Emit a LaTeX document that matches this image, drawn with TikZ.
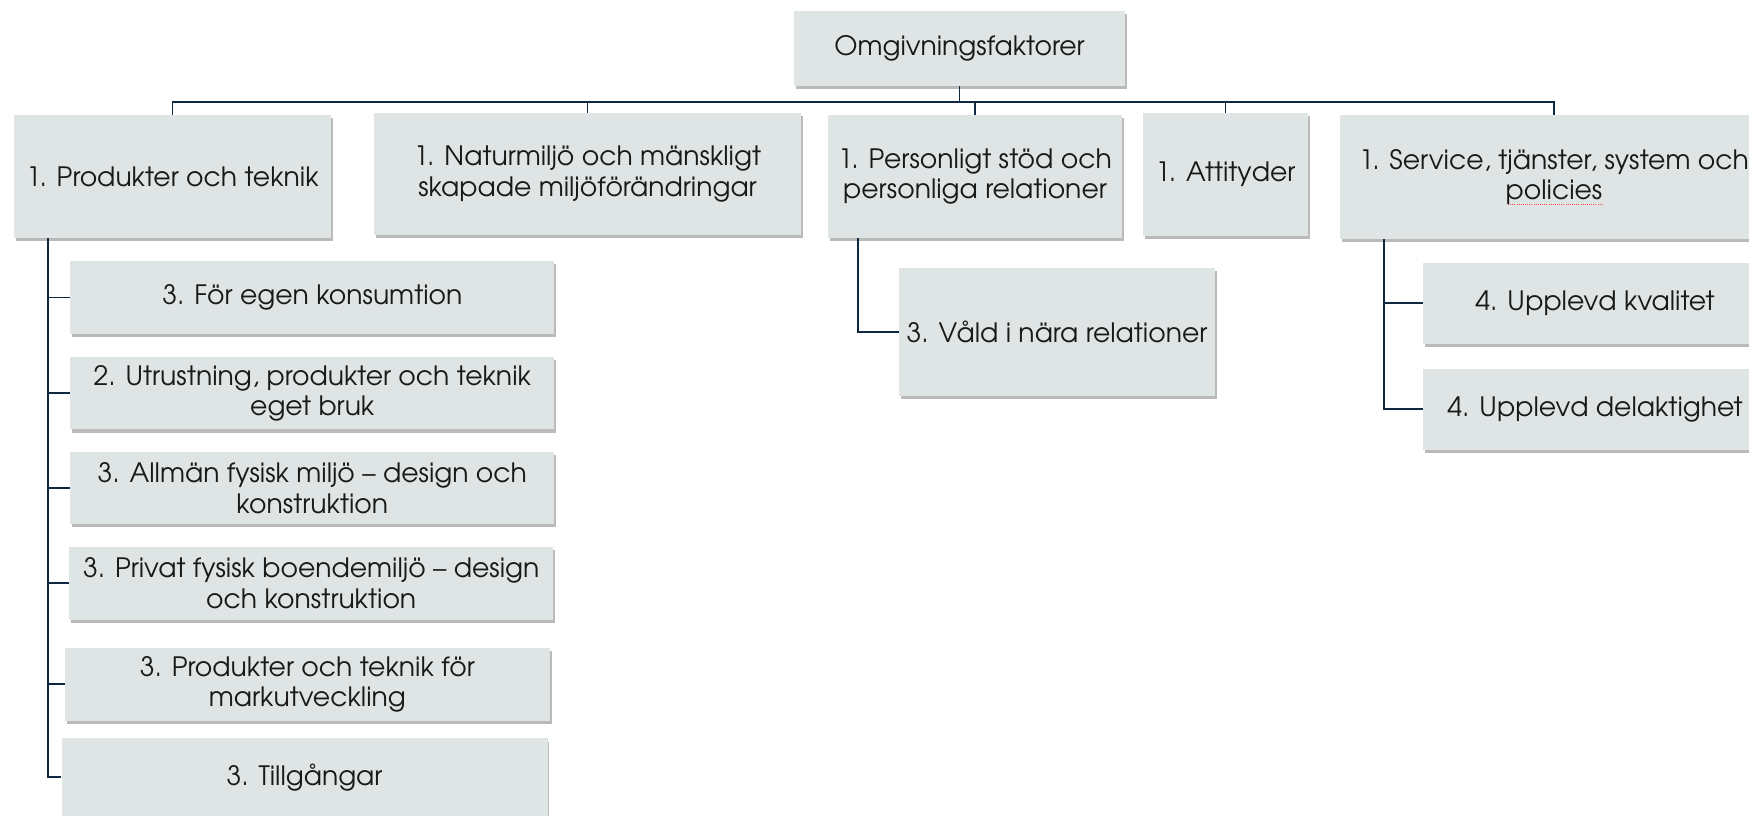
\documentclass[tikz,border=0pt]{standalone}
\usepackage{fontspec}
\setmainfont{texgyreadventor}[Extension=.otf, UprightFont=*-regular, BoldFont=*-bold]
\usetikzlibrary{shadows}
\definecolor{boxfill}{RGB}{223,228,228}
\definecolor{conncol}{RGB}{14,40,65}
\definecolor{txtcol}{RGB}{25,25,25}
\tikzset{
  wh/.style 2 args={minimum width=#1*0.75pt, minimum height=#2*0.75pt},
  box/.style={fill=boxfill, draw=none, align=center, inner sep=0pt,
    text=txtcol, font=\fontsize{20}{22.8}\selectfont,
    drop shadow={shadow xshift=1.2pt, shadow yshift=-2.4pt, fill=black!60, opacity=0.45}},
  conn/.style={draw=conncol, line width=1.45pt}
}
\begin{document}
\begin{tikzpicture}[x=0.75pt,y=-0.75pt]
\useasboundingbox (0,0) rectangle (1749,816);
\fill[white] (0,0) rectangle (1749,816);
\clip (0,0) rectangle (1749,816);

% level 0
\node[box, wh={331}{75}] (top) at (959.5,48.5) {Omgivningsfaktorer};

% level 1
\node[box, wh={317}{123}] (A) at (172.5,176.5) {1. Produkter och teknik};
\node[box, wh={427}{122}] (B) at (587.5,174) {1. Naturmiljö och mänskligt\\skapade miljöförändringar};
\node[box, wh={294}{123}] (C) at (975,176.5) {1. Personligt stöd och\\personliga relationer};
\node[box, wh={165}{123}] (D) at (1225.5,174.5) {1. Attityder};
\node[box, wh={428}{124}] (E) at (1554,177) {1. Service, tjänster, system och\\policies};

% children of A
\node[box, wh={484}{72.5}] (c1) at (312.3,297.5) {3. För egen konsumtion};
\node[box, wh={484}{72.5}] (c2) at (312.3,393.2) {2. Utrustning, produkter och teknik\\eget bruk};
\node[box, wh={484}{72.5}] (c3) at (312.3,488) {3. Allmän fysisk miljö – design och\\konstruktion};
\node[box, wh={484}{73}] (c4) at (311.2,583.2) {3. Privat fysisk boendemiljö – design\\och konstruktion};
\node[box, wh={485}{72.5}] (c5) at (307.4,684.3) {3. Produkter och teknik för\\markutveckling};
\node[box, wh={486}{78}] (c6) at (304.5,777.4) {3. Tillgångar};

% child of C
\node[box, wh={316}{128}] (v) at (1057,332) {3. Våld i nära relationer};

% children of E
\node[box, wh={344}{80.5}] (k1) at (1595,303.3) {4. Upplevd kvalitet};
\node[box, wh={344}{80.5}] (k2) at (1595,409.3) {4. Upplevd delaktighet};

% spell-check mark under "policies"
\coordinate (u1) at (1508,204);
\coordinate (u2) at (1602,204);
\draw[red!70, densely dotted, line width=0.6pt] (u1) -- (u2);

% connectors
\coordinate (bus) at (0,102);
\foreach \n in {A,B,C,D,E}{
  \draw[conn] (top.south) |- (bus -| \n.north) -- (\n.north);
}
\coordinate (spA) at (48,0);
\foreach \n in {c1,c2,c3,c4,c5,c6}{
  \draw[conn] (spA |- A.south) |- (\n.west);
}
\coordinate (spC) at (858,0);
\draw[conn] (spC |- C.south) |- (v.west);
\coordinate (spE) at (1384,0);
\draw[conn] (spE |- E.south) |- (k1.west);
\draw[conn] (spE |- E.south) |- (k2.west);
\end{tikzpicture}
\end{document}
